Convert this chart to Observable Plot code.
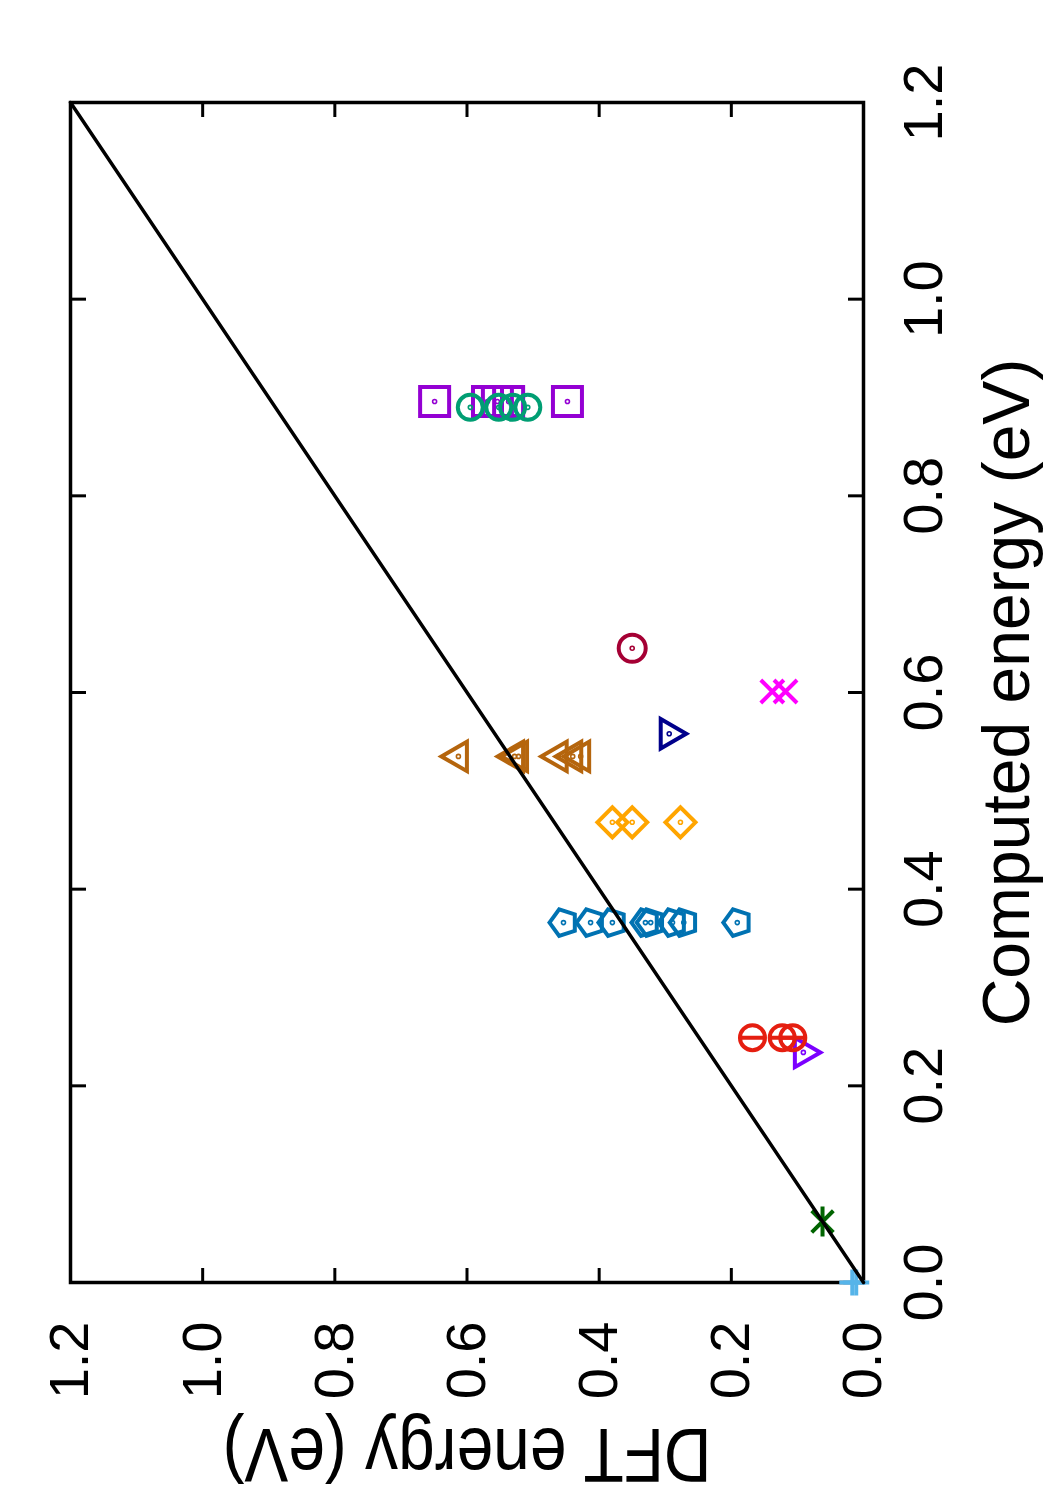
<!DOCTYPE html>
<html>
<head>
<meta charset="utf-8">
<script src="https://cdn.jsdelivr.net/npm/d3@7"></script>
<script src="https://cdn.jsdelivr.net/npm/@observablehq/plot@0.6"></script>
<style>
  html, body { margin: 0; padding: 0; background: #fff; }
  body { width: 1050px; height: 1500px; overflow: hidden; position: relative; }
  /* the landscape chart is turned a quarter turn counter-clockwise onto the portrait page */
  #chart {
    position: absolute; left: 0; top: 0;
    width: 1500px; height: 1050px;
    transform-origin: 0 0;
    transform: translate(0, 1500px) rotate(-90deg);
  }
  #chart svg { font-family: "Liberation Sans", Arial, Helvetica, sans-serif; }
</style>
</head>
<body>
<div id="chart"></div>
<script>
// Axis ticks (eV), shared by both axes
const tickValues = [0, 0.2, 0.4, 0.6, 0.8, 1.0, 1.2];
// Ideal agreement line endpoints
const diagonal = [0, 1.2];

// [computed energy, DFT energy] in eV, one array per group of structures
const plusPts     = [[0.000, 0.017], [0.000, 0.011]];
const starPts     = [[0.062, 0.062]];
const violetTri   = [[0.234, 0.091]];
const redRings    = [[0.249, 0.168], [0.249, 0.123], [0.249, 0.107]];
const pentagons   = [[0.366, 0.454], [0.366, 0.413], [0.366, 0.380], [0.366, 0.330],
                     [0.366, 0.322], [0.366, 0.289], [0.366, 0.272], [0.366, 0.191]];
const diamonds    = [[0.468, 0.380], [0.468, 0.350], [0.468, 0.277]];
const brownTri    = [[0.535, 0.613], [0.535, 0.528], [0.535, 0.522],
                     [0.535, 0.462], [0.535, 0.440], [0.535, 0.428]];
const navyTri     = [[0.558, 0.294]];
const crosses     = [[0.601, 0.138], [0.601, 0.118]];
const wineRing    = [[0.645, 0.350]];
const squares     = [[0.896, 0.649], [0.896, 0.569], [0.896, 0.554], [0.896, 0.537], [0.896, 0.448]];
const greenRings  = [[0.890, 0.595], [0.890, 0.552], [0.890, 0.531], [0.890, 0.508]];

// Marker shapes: open outlines, most with a small dot in the middle
function shape(outline, centreDot = true) {
  return {
    draw(c, size) {
      const r = Math.sqrt(size / Math.PI);
      outline(c, r);
      if (centreDot) { c.moveTo(0.8, 0); c.arc(0, 0, 0.8, 0, 2 * Math.PI); }
    }
  };
}
function polygon(c, r, startDeg, n) {
  for (let k = 0; k < n; ++k) {
    const a = (startDeg + k * 360 / n) * Math.PI / 180;
    const px = r * Math.cos(a), py = r * Math.sin(a);
    k ? c.lineTo(px, py) : c.moveTo(px, py);
  }
  c.closePath();
}
const ring = (c, r) => { c.moveTo(r, 0); c.arc(0, 0, r, 0, 2 * Math.PI); };
const symSquare   = shape((c, r) => c.rect(-r, -r, 2 * r, 2 * r));
const symRing     = shape(ring);
const symRingBar  = shape((c, r) => { ring(c, r); c.moveTo(0, -r); c.lineTo(0, r); }, false);
const symPentagon = shape((c, r) => polygon(c, r, -90, 5));
const symDiamond  = shape((c, r) => polygon(c, r, -90, 4));
const symTriUp    = shape((c, r) => polygon(c, r, -90, 3));
const symTriDown  = shape((c, r) => polygon(c, r, 90, 3));
const symCross    = shape((c, r) => { const a = r * 0.72; c.moveTo(-a, -a); c.lineTo(a, a); c.moveTo(-a, a); c.lineTo(a, -a); }, false);
const symPlus     = shape((c, r) => { c.moveTo(-r, 0); c.lineTo(r, 0); c.moveTo(0, -r); c.lineTo(0, r); }, false);
const symStar     = shape((c, r) => { const a = r * 0.72; c.moveTo(-r, 0); c.lineTo(r, 0); c.moveTo(-a, -a); c.lineTo(a, a); c.moveTo(-a, a); c.lineTo(a, -a); }, false);

const groups = [
  {data: starPts,    symbol: symStar,     r: 15,   color: "#006400"},
  {data: violetTri,  symbol: symTriDown,  r: 17,   color: "#7b00ff"},
  {data: redRings,   symbol: symRingBar,  r: 12.5, color: "#e51e10"},
  {data: pentagons,  symbol: symPentagon, r: 14,   color: "#0072b2"},
  {data: diamonds,   symbol: symDiamond,  r: 15,   color: "#ffa500"},
  {data: brownTri,   symbol: symTriUp,    r: 17,   color: "#b5650d"},
  {data: navyTri,    symbol: symTriDown,  r: 17,   color: "#00008b"},
  {data: crosses,    symbol: symCross,    r: 16,   color: "#ff00ff"},
  {data: wineRing,   symbol: symRing,     r: 13.5, color: "#a50034"},
  {data: squares,    symbol: symSquare,   r: 14.5, color: "#9400d3"},
  {data: greenRings, symbol: symRing,     r: 12.5, color: "#009e73"},
  {data: plusPts,    symbol: symPlus,     r: 13,   color: "#56b4e9"}
];

const fmt = d3.format(".1f");

const chart = Plot.plot({
  width: 1500,
  height: 1050,
  marginLeft: 217,
  marginRight: 103,
  marginTop: 70,
  marginBottom: 187,
  style: {background: "white", color: "black", fontFamily: "'Liberation Sans', Arial, Helvetica, sans-serif"},
  x: {domain: [0, 1.2]},
  y: {domain: [0, 1.2]},
  marks: [
    // inward ticks on all four sides, labels on bottom and left
    Plot.axisX(tickValues, {anchor: "bottom", tickSize: -15, tickPadding: 54, strokeWidth: 3,
      tickFormat: fmt, fontSize: 56, label: null}),
    Plot.axisX(tickValues, {anchor: "top", tickSize: -15, strokeWidth: 3, fill: "none", label: null}),
    Plot.axisY(tickValues, {anchor: "left", tickSize: -15, tickPadding: 54, strokeWidth: 3,
      tickFormat: fmt, fontSize: 56, label: null}),
    Plot.axisY(tickValues, {anchor: "right", tickSize: -15, strokeWidth: 3, fill: "none", label: null}),
    Plot.frame({stroke: "black", strokeWidth: 3.5}),
    ...groups.map(g => Plot.dot(g.data, {
      x: d => d[0], y: d => d[1],
      symbol: g.symbol, r: g.r,
      stroke: g.color, strokeWidth: 4, fill: "none"
    })),
    Plot.line(diagonal, {x: d => d, y: d => d, stroke: "black", strokeWidth: 3.5}),
    Plot.text(["Computed energy (eV)"], {frameAnchor: "bottom", dy: 144, fontSize: 66,
      lineAnchor: "middle", textAnchor: "middle", fill: "black"}),
    Plot.text(["DFT energy (eV)"], {frameAnchor: "left", dx: -171, rotate: -90, fontSize: 66,
      lineAnchor: "middle", textAnchor: "middle", fill: "black"})
  ]
});

// the y title is set in taller, narrower letters
d3.select(chart).selectAll("text")
  .filter(function() { return this.textContent === "DFT energy (eV)"; })
  .attr("font-size", 76)
  .attr("textLength", 489)
  .attr("lengthAdjust", "spacingAndGlyphs");

document.getElementById("chart").appendChild(chart);
</script>
</body>
</html>
